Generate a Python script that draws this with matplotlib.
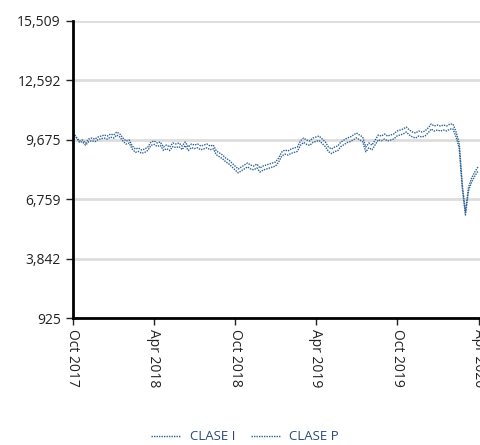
import matplotlib
matplotlib.use("Agg")
import matplotlib.pyplot as plt
import matplotlib.dates as mdates
import pandas as pd
from matplotlib.ticker import FixedLocator, FuncFormatter

plt.rcParams['font.family'] = ['Open Sans', 'DejaVu Sans']

dates = pd.date_range("2017-10-02", periods=131, freq="7D")

clase_i = [10009, 9812, 9616, 9665, 9518, 9714, 9763, 9714, 9812, 9861,
           9910, 9861, 9959, 9910, 10057, 9959, 9763, 9616, 9665, 9370,
           9223, 9272, 9174, 9223, 9321, 9567, 9616, 9518, 9567, 9321,
           9419, 9321, 9518, 9468, 9518, 9370, 9567, 9321, 9468, 9419,
           9468, 9370, 9419, 9468, 9370, 9419, 9125, 9027, 8929, 8781,
           8683, 8536, 8388, 8241, 8339, 8437, 8536, 8437, 8388, 8486,
           8290, 8388, 8437, 8486, 8536, 8585, 8781, 9076, 9174, 9125,
           9223, 9272, 9321, 9616, 9763, 9665, 9616, 9763, 9812, 9861,
           9714, 9567, 9321, 9223, 9321, 9370, 9567, 9665, 9763, 9812,
           9910, 10009, 9910, 9812, 9321, 9518, 9419, 9665, 9910, 9861,
           9959, 9861, 9910, 9959, 10107, 10156, 10205, 10303, 10156, 10057,
           10009, 10107, 10057, 10107, 10254, 10450, 10352, 10401, 10352, 10401,
           10352, 10450, 10450, 10057, 9518, 7455, 6130, 7357, 7799, 8094,
           8339]

clase_p = [10009, 9782, 9556, 9575, 9408, 9584, 9633, 9584, 9682, 9731,
           9760, 9711, 9809, 9760, 9907, 9809, 9613, 9466, 9515, 9220,
           9058, 9107, 9009, 9058, 9156, 9402, 9451, 9353, 9402, 9156,
           9244, 9146, 9343, 9293, 9343, 9195, 9392, 9146, 9293, 9244,
           9283, 9185, 9234, 9283, 9185, 9234, 8940, 8842, 8744, 8596,
           8493, 8346, 8198, 8051, 8149, 8247, 8346, 8247, 8198, 8296,
           8090, 8188, 8237, 8286, 8336, 8385, 8581, 8876, 8974, 8925,
           9008, 9057, 9106, 9401, 9548, 9450, 9401, 9548, 9597, 9646,
           9489, 9342, 9096, 8998, 9096, 9145, 9342, 9440, 9538, 9587,
           9675, 9774, 9675, 9577, 9086, 9283, 9184, 9430, 9675, 9626,
           9714, 9616, 9665, 9714, 9862, 9911, 9960, 10058, 9911, 9812,
           9764, 9862, 9812, 9862, 10009, 10205, 10107, 10156, 10107, 10156,
           10107, 10205, 10205, 9812, 9273, 7275, 5980, 7177, 7609, 7894,
           8134]

y_ticks = [925, 3842, 6759, 9675, 12592, 15509]
x_ticks = ["2017-10-01", "2018-04-01", "2018-10-01", "2019-04-01", "2019-10-01", "2020-04-01"]
series_names = ["CLASE I", "CLASE P"]

color = "#2d6194"

fig = plt.figure(figsize=(4.81, 4.45), dpi=100)
ax = fig.add_axes([72.7 / 481, 1 - 318 / 445, 1 - 72.7 / 481, (318 - 21) / 445])

ax.plot(dates, clase_i, color=color, linestyle=(0, (1, 0.8)), linewidth=1.0, label=series_names[0])
ax.plot(dates, clase_p, color=color, linestyle=(0, (1, 0.8)), linewidth=1.0, label=series_names[1])

ax.set_ylim(y_ticks[0], y_ticks[-1])
ax.set_xlim(pd.Timestamp("2017-10-01"), pd.Timestamp("2020-04-06"))

ax.yaxis.set_major_locator(FixedLocator(y_ticks))
ax.yaxis.set_major_formatter(FuncFormatter(lambda v, p: f"{int(round(v)):,}"))
ax.set_xticks([mdates.date2num(pd.Timestamp(d)) for d in x_ticks])
ax.set_xticklabels([pd.Timestamp(d).strftime("%b %Y") for d in x_ticks], rotation=270)

ax.grid(axis="y", color="#dddddd", linewidth=2)
ax.set_axisbelow(True)
for s in ["top", "right"]:
    ax.spines[s].set_visible(False)
for s in ["left", "bottom"]:
    ax.spines[s].set_linewidth(2)
    ax.spines[s].set_color("black")
ax.tick_params(axis="both", labelsize=10, colors="#222222", length=5, width=1)
ax.tick_params(axis="x", pad=3)

leg = fig.legend(loc="center", bbox_to_anchor=(245 / 481, 1 - 437 / 445), ncol=2, frameon=False,
                 fontsize=9.5, handlelength=2.2, columnspacing=1.2, handletextpad=0.7)
for t in leg.get_texts():
    t.set_color("#2b4b78")

fig.savefig("out.png", dpi=100)
